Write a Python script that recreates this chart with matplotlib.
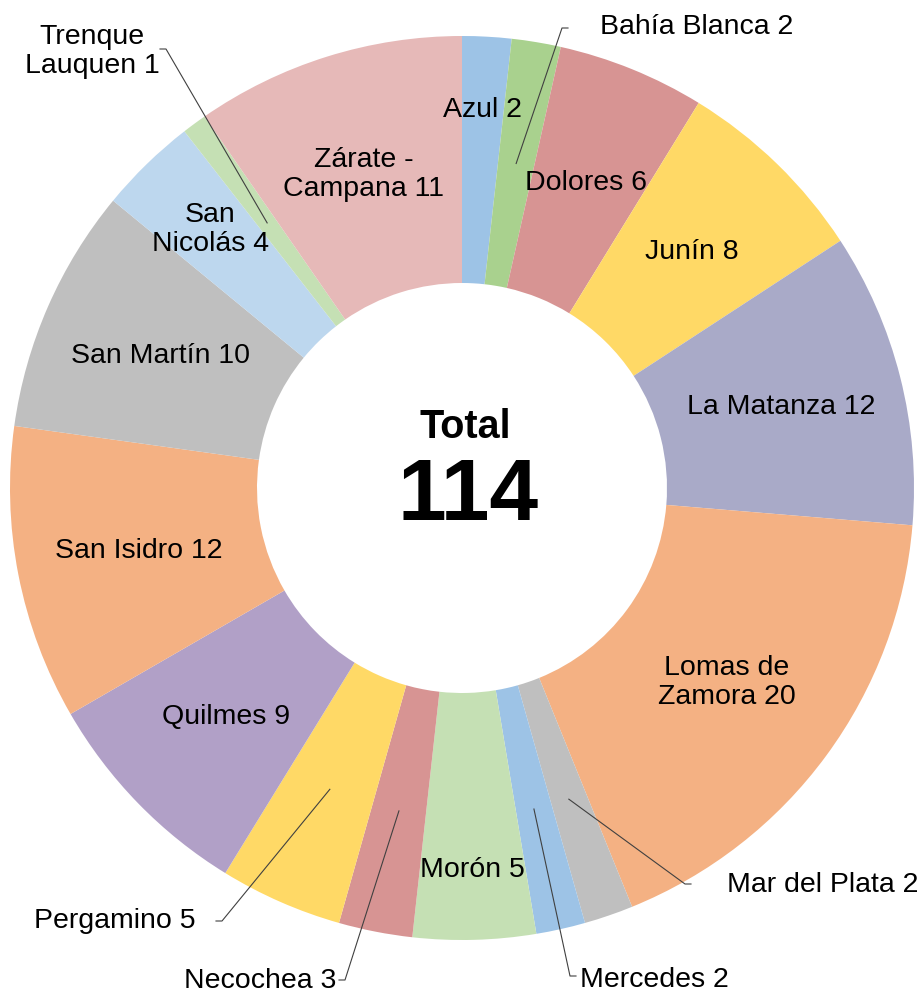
import numpy as np
import matplotlib.pyplot as plt

# data
names = ['Azul', 'Bahía Blanca', 'Dolores', 'Junín', 'La Matanza', 'Lomas de\nZamora',
         'Mar del Plata', 'Mercedes', 'Morón', 'Necochea', 'Pergamino', 'Quilmes',
         'San Isidro', 'San Martín', 'San\nNicolás', 'Trenque\nLauquen', 'Zárate -\nCampana']
counts = [2, 2, 6, 8, 12, 20, 2, 2, 5, 3, 5, 9, 12, 10, 4, 1, 11]
colors = ['#9DC3E6', '#A9D18E', '#D79493', '#FFD966', '#A9AAC8', '#F4B183',
          '#BFBFBF', '#9DC3E6', '#C5E0B4', '#D79493', '#FFD966', '#B1A0C7',
          '#F4B183', '#BFBFBF', '#BDD7EE', '#C5E0B4', '#E6B9B8']

W, H = 923, 998
CX, CY = 462, 488
R_OUT, R_IN = 452, 205
R_LAB = 329
FS = 20.5

# labels placed outside with a leader line: name -> (text x, text y, ha, elbow x, elbow y, tick)
outside = {
    'Bahía Blanca': (600, 27, 'left', 562, 28, 6),
    'Trenque\nLauquen': (92, 51, 'center', 166, 49, -6),
    'Mar del Plata': (727, 885, 'left', 685, 884, 6),
    'Mercedes': (580, 980, 'left', 570, 976, 6),
    'Necochea': (336, 981, 'right', 345, 980, -6),
    'Pergamino': (196, 921, 'right', 222, 921, -6),
}
# inside labels that sit off the middle radius
inner_r = {'Azul': 379, 'Morón': 382, 'San\nNicolás': 361}

plt.rcParams['font.family'] = ['Liberation Sans', 'DejaVu Sans']

fig = plt.figure(figsize=(W / 100, H / 100), dpi=100)
ax = fig.add_axes([0, 0, 1, 1])
ax.set_xlim(0, W)
ax.set_ylim(0, H)
ax.set_aspect('equal')
ax.axis('off')


def px(x, y):
    return x, H - y


wedges, _ = ax.pie(counts, colors=colors, startangle=90, counterclock=False,
                   center=px(CX, CY), radius=R_OUT,
                   wedgeprops=dict(width=R_OUT - R_IN, linewidth=0))
ax.set_xlim(0, W)
ax.set_ylim(0, H)

for w, name, n in zip(wedges, names, counts):
    mid = np.deg2rad((w.theta1 + w.theta2) / 2)
    label = f'{name} {n}'
    if name in outside:
        tx, ty, ha, ex, ey, tick = outside[name]
        axp = CX + R_LAB * np.cos(mid)
        ayp = CY - R_LAB * np.sin(mid)
        ax.plot([axp, ex, ex + tick], [H - ayp, H - ey, H - ey],
                color='#404040', lw=0.8)
        ax.text(*px(tx, ty), label, ha=ha, va='center', fontsize=FS,
                linespacing=1.15, multialignment='center')
    else:
        r = inner_r.get(name, R_LAB)
        lx = CX + r * np.cos(mid)
        ly = CY - r * np.sin(mid)
        ax.text(*px(lx, ly), label, ha='center', va='center', fontsize=FS,
                linespacing=1.15, multialignment='center')

ax.text(*px(465, 427), 'Total', ha='center', va='center', fontsize=28.5,
        fontweight='bold')
ax.text(*px(468, 497), str(sum(counts)), ha='center', va='center', fontsize=63,
        fontweight='bold')

fig.savefig('out.png', dpi=100)
